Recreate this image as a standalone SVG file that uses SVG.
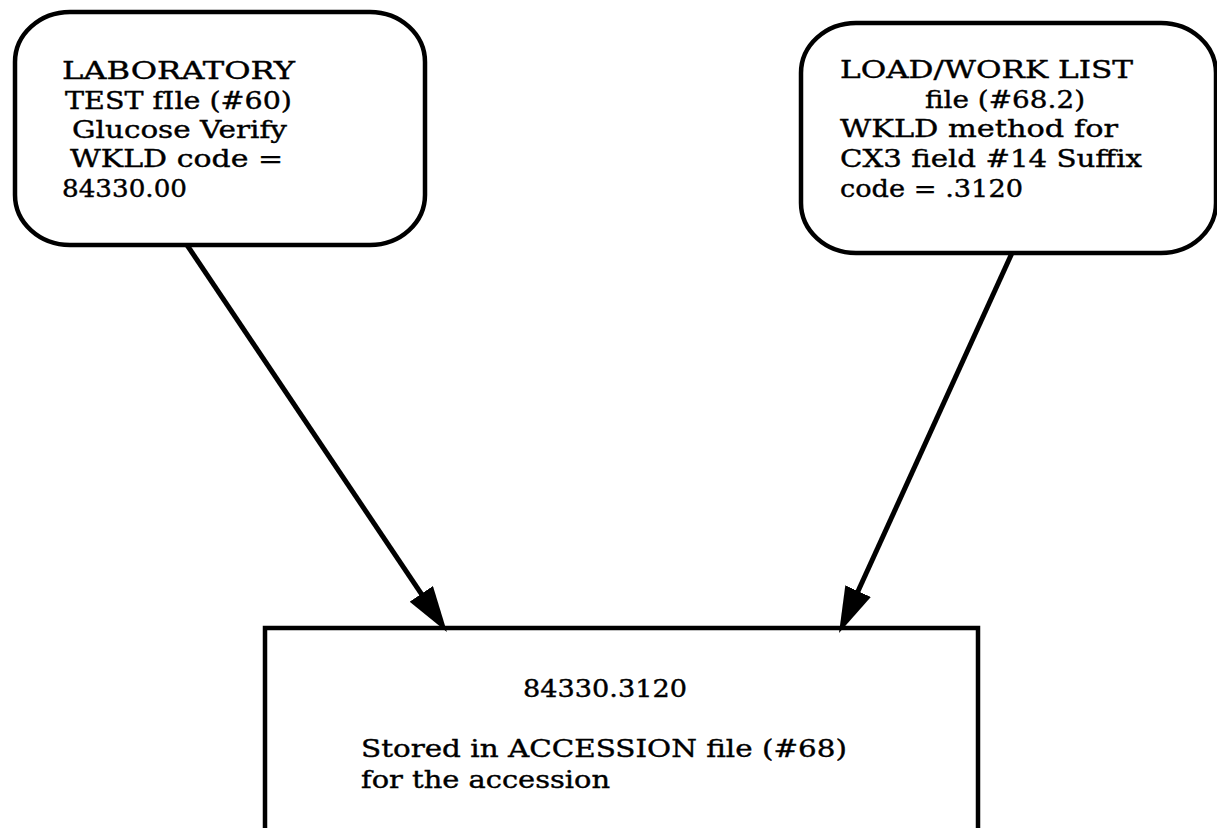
<svg xmlns="http://www.w3.org/2000/svg" width="1217" height="828" viewBox="0 0 1217 828">
<style>
.box{fill:#fff;stroke:#000;stroke-width:4.5}
.t{font-family:"DejaVu Serif","Liberation Serif",serif;font-size:25px;fill:#000;stroke:#000;stroke-width:0.4}
.edge{fill:none;stroke:#000;stroke-width:5}
</style>
<defs>
<marker id="arr" viewBox="0 0 46 28" refX="26" refY="14" markerWidth="46" markerHeight="28" markerUnits="userSpaceOnUse" orient="auto">
<path d="M0,0 L46,14 L0,28 z" fill="#000"/>
</marker>
</defs>
<rect width="1217" height="828" fill="#fff"/>
<g id="lab-test">
<rect class="box" x="15" y="12" width="410" height="233" rx="55" ry="50"/>
<text class="t" x="62" y="79" textLength="233" lengthAdjust="spacingAndGlyphs">LABORATORY</text>
<text class="t" x="65" y="109" textLength="227" lengthAdjust="spacingAndGlyphs">TEST fIle (#60)</text>
<text class="t" x="72" y="138" textLength="215" lengthAdjust="spacingAndGlyphs">Glucose Verify</text>
<text class="t" x="70" y="167" textLength="213" lengthAdjust="spacingAndGlyphs">WKLD code =</text>
<text class="t" x="62" y="197" textLength="125" lengthAdjust="spacingAndGlyphs">84330.00</text>
</g>
<g id="load-work-list">
<rect class="box" x="801" y="23" width="415" height="230" rx="55" ry="50"/>
<text class="t" x="840" y="78" textLength="293" lengthAdjust="spacingAndGlyphs">LOAD/WORK LIST</text>
<text class="t" x="925" y="108" textLength="160" lengthAdjust="spacingAndGlyphs">file (#68.2)</text>
<text class="t" x="840" y="137" textLength="278" lengthAdjust="spacingAndGlyphs">WKLD method for</text>
<text class="t" x="840" y="167" textLength="302" lengthAdjust="spacingAndGlyphs">CX3 field #14 Suffix</text>
<text class="t" x="840" y="197" textLength="183" lengthAdjust="spacingAndGlyphs">code = .3120</text>
</g>
<g id="accession">
<rect class="box" x="265" y="628" width="713" height="260"/>
<text class="t" x="523" y="697" textLength="164" lengthAdjust="spacingAndGlyphs">84330.3120</text>
<text class="t" x="361" y="757" textLength="486" lengthAdjust="spacingAndGlyphs">Stored in ACCESSION file (#68)</text>
<text class="t" x="361" y="788" textLength="249" lengthAdjust="spacingAndGlyphs">for the accession</text>
</g>
<g id="connectors">
<path class="edge" d="M187,245 L435.8,615.4" marker-end="url(#arr)"/>
<path class="edge" d="M1012,253 L847.3,614.8" marker-end="url(#arr)"/>
</g>
</svg>
